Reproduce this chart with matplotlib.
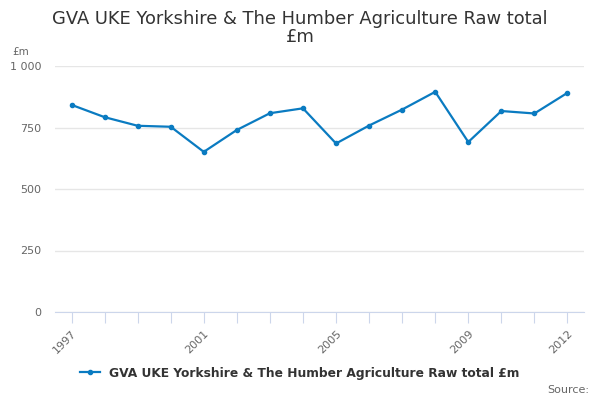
import matplotlib
matplotlib.use('Agg')
from matplotlib import pyplot as plt

years = list(range(1997, 2013))
values = [842, 792, 757, 753, 651, 740, 808, 828, 685, 758, 823, 895, 691, 817, 807, 891]
label_years = [1997, 2001, 2005, 2009, 2012]
series_name = 'GVA UKE Yorkshire & The Humber Agriculture Raw total £m'

plt.rcParams['font.family'] = ['DejaVu Sans']
fig = plt.figure(figsize=(6, 4), dpi=100)
ax = fig.add_axes([55/600, 88/400, 529/600, 246/400])

ax.plot(years, values, color='#0a7bc1', linewidth=1.6, marker='o', markersize=3, label=series_name)

ax.set_xlim(1996.5, 2012.5)
ax.set_ylim(0, 1000)
ax.set_yticks([0, 250, 500, 750, 1000])
ax.set_yticklabels(['0', '250', '500', '750', '1 000'])
ax.set_xticks(years)
ax.set_xticklabels([str(y) if y in label_years else '' for y in years], rotation=45, ha='right', rotation_mode='anchor')
ax.tick_params(axis='x', length=8, color='#ccd6eb', labelsize=8, labelcolor='#666666', pad=4)
ax.tick_params(axis='y', length=0, labelsize=8, labelcolor='#666666', pad=10)
ax.grid(axis='y', color='#e6e6e6', linewidth=1)
ax.set_axisbelow(True)
for s in ['top', 'right', 'left']:
    ax.spines[s].set_visible(False)
ax.spines['bottom'].set_color('#ccd6eb')

fig.text(0.5, 0.975, 'GVA UKE Yorkshire & The Humber Agriculture Raw total\n£m', ha='center', va='top', fontsize=12.9, color='#333333', linespacing=1.0)
fig.text(12/600, 1 - 52/400, '£m', fontsize=7.5, color='#666666', va='center')
fig.text(589/600, 1 - 390/400, 'Source:', fontsize=8, color='#666666', ha='right', va='center')

leg = fig.legend(loc='center', bbox_to_anchor=(0.5, 1 - 373/400), frameon=False, fontsize=8.8, handlelength=1.6)
for t in leg.get_texts():
    t.set_fontweight('bold')
    t.set_color('#333333')

fig.savefig('out.png', dpi=100)
